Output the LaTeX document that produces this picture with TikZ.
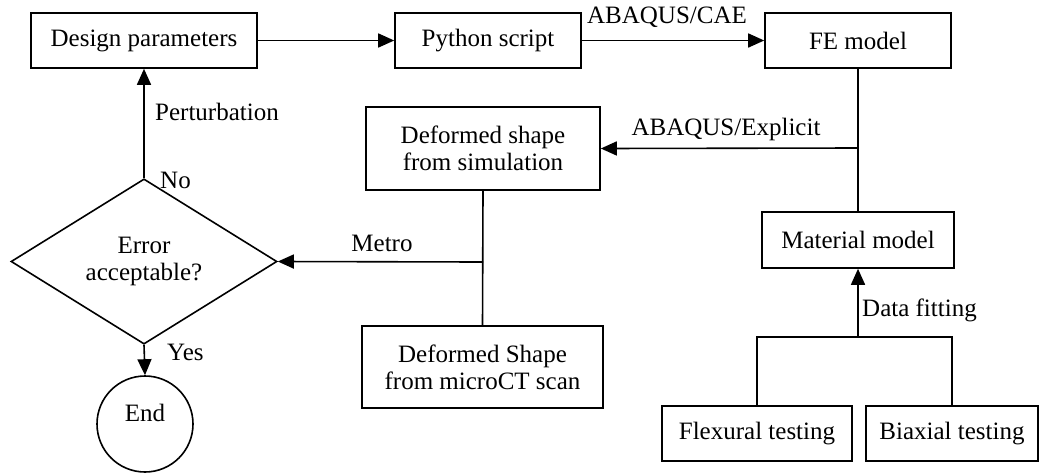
\documentclass[tikz,border=0pt]{standalone}
\usepackage{fontspec}
\setmainfont{Liberation Serif}
\usetikzlibrary{arrows.meta,shapes.geometric}
\begin{document}
\begin{tikzpicture}[x=1pt,y=-1pt,
  font=\fontsize{25}{27}\selectfont,
  box/.style={draw,line width=1.6pt,rectangle,inner sep=0pt,align=center},
  conn/.style={line width=1.6pt},
  arr/.style={conn,-{Triangle[length=16pt,width=14pt]}},
  lbl/.style={inner sep=0pt}]
\useasboundingbox (0,0) rectangle (1040,472);
\node[box,minimum width=226,minimum height=55] (dp) at (144,40.5) {Design parameters};
\node[box,minimum width=186,minimum height=55] (ps) at (488,40.5) {Python script};
\node[box,minimum width=186,minimum height=55] (fe) at (858,40.5) {FE model};
\node[box,minimum width=234,minimum height=83] (ds) at (483,148.5) {Deformed shape\\from simulation};
\node[box,minimum width=192,minimum height=56] (mm) at (858,240) {Material model};
\node[draw,line width=1.6pt,diamond,inner sep=0pt,minimum width=266,minimum height=131,align=center] (dia) at (144,261.5) {Error\\acceptable?};
\node[box,minimum width=241,minimum height=82] (mc) at (482.5,367) {Deformed Shape\\from microCT scan};
\node[draw,line width=1.6pt,circle,inner sep=0pt,minimum size=96] (end) at (145,424) {};
\node[lbl] (endt) at (145,413) {End};
\node[box,minimum width=190,minimum height=55] (fl) at (757,433.5) {Flexural testing};
\node[box,minimum width=172,minimum height=55] (bi) at (952,433.5) {Biaxial testing};
\coordinate (j1) at (858,148);
\coordinate (j2) at (483,262);
\coordinate (j3) at (858,337);
\draw[arr] (dp.east) -- (ps.west);
\draw[arr] (ps.east) -- (fe.west);
\node[lbl] (lcae) at (667,17) {ABAQUS/CAE};
\draw[conn] (fe.south) -- (mm.north);
\draw[arr] (j1) -- (ds.east);
\node[lbl] (lexp) at (726,129) {ABAQUS/Explicit};
\draw[conn] (ds.south) -- (mc.north);
\draw[arr] (j2) -- (dia.east);
\node[lbl] (lmet) at (382,243) {Metro};
\draw[arr] (dia.north) -- (dp.south);
\node[lbl,anchor=west] (lper) at (155,112) {Perturbation};
\node[lbl,anchor=west] (lno) at (160,180) {No};
\draw[arr] (dia.south) -- (end.north);
\node[lbl,anchor=west] (lyes) at (167,352) {Yes};
\draw[arr] (j3) -- (mm.south);
\node[lbl,anchor=west] (ldf) at (862,310) {Data fitting};
\draw[conn] (fl.north) |- (j3) -| (bi.north);
\end{tikzpicture}
\end{document}
